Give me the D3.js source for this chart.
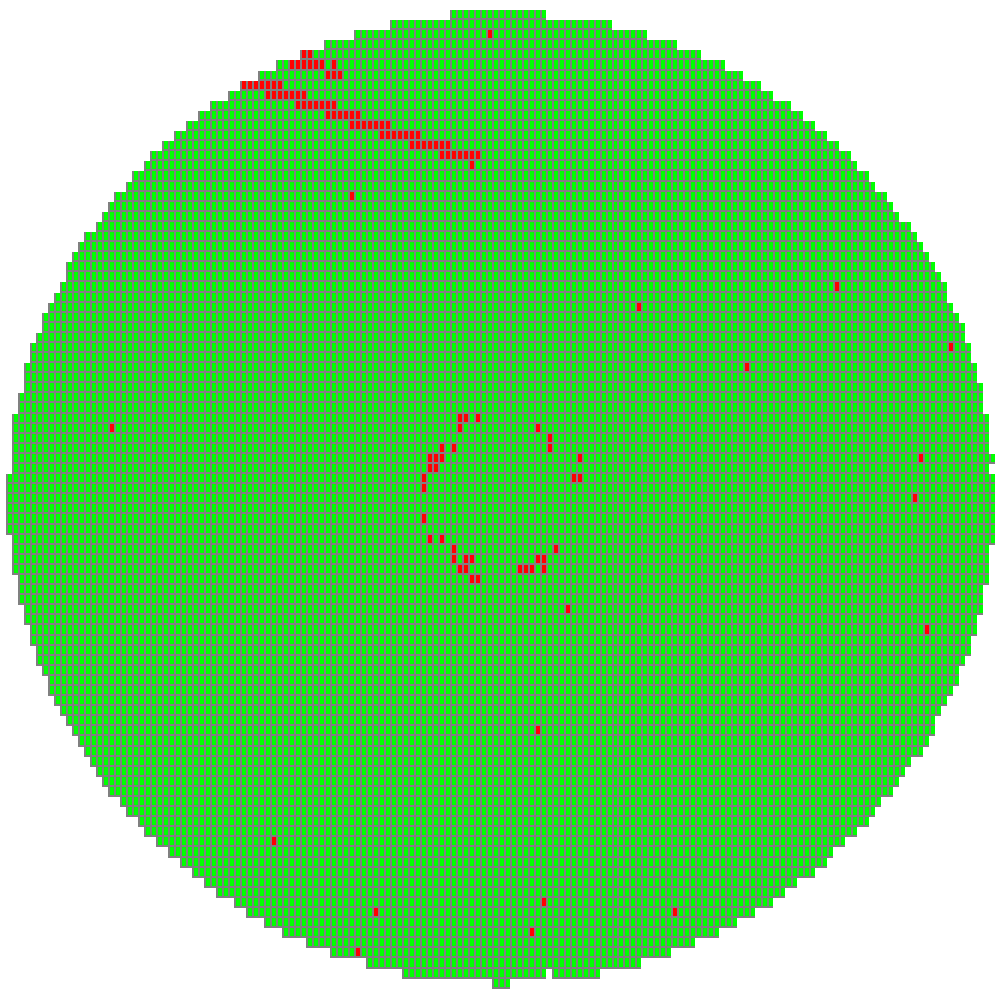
<!DOCTYPE html>
<html><head><meta charset="utf-8">
<script src="https://cdn.jsdelivr.net/npm/d3@7"></script>
<style>html,body{margin:0;padding:0;background:#fff;} svg{display:block;}</style>
</head><body>
<script>
// First and last die column of each wafer row (row 0 = top)
const rowStart = [
  74,64,58,53,49,45,42,39,37,34,
  32,30,28,26,24,23,21,20,18,17,
  16,15,13,12,11,10,10,9,8,7,
  6,6,5,4,4,3,3,3,2,2,
  1,1,1,1,1,1,0,0,0,0,
  0,0,1,1,1,1,2,2,2,3,
  3,4,4,5,5,6,7,7,8,9,
  10,11,12,13,14,15,16,17,19,20,
  22,23,25,27,29,31,33,35,38,40,
  43,46,50,54,60,66,81
];
const rowEnd = [
  89,100,106,111,115,119,122,125,127,130,
  132,134,136,138,140,141,143,144,146,147,
  148,150,151,152,153,154,155,156,156,157,
  158,159,159,160,160,161,161,162,162,162,
  163,163,163,163,164,163,164,164,164,164,
  164,164,164,163,163,163,163,162,162,162,
  161,161,160,160,159,158,158,157,156,155,
  154,154,153,152,150,149,148,147,145,144,
  143,141,139,137,136,134,131,129,127,124,
  121,118,114,110,105,98,83
];
// dies not present inside the row span [row, col]
const missingDies = [[95,90]];
// failing dies [row, col]
const failDies = [
  [2,80],
  [4,49],[4,50],
  [5,47],[5,48],[5,49],[5,50],[5,51],[5,52],[5,54],
  [6,53],[6,54],[6,55],
  [7,39],[7,40],[7,41],[7,42],[7,43],[7,44],[7,45],
  [8,43],[8,44],[8,45],[8,46],[8,47],[8,48],[8,49],
  [9,48],[9,49],[9,50],[9,51],[9,52],[9,53],[9,54],
  [10,53],[10,54],[10,55],[10,56],[10,57],[10,58],
  [11,57],[11,58],[11,59],[11,60],[11,61],[11,62],[11,63],
  [12,62],[12,63],[12,64],[12,65],[12,66],[12,67],[12,68],
  [13,67],[13,68],[13,69],[13,70],[13,71],[13,72],[13,73],
  [14,72],[14,73],[14,74],[14,75],[14,76],[14,77],[14,78],
  [15,77],
  [18,57],
  [27,138],
  [29,105],
  [33,157],
  [35,123],
  [40,75],[40,76],[40,78],
  [41,17],[41,75],[41,88],
  [42,90],
  [43,72],[43,74],[43,90],
  [44,70],[44,71],[44,72],[44,95],[44,152],
  [45,70],[45,71],
  [46,69],[46,94],[46,95],
  [47,69],
  [48,151],
  [50,69],
  [52,70],[52,72],
  [53,74],[53,91],
  [54,74],[54,76],[54,77],[54,88],[54,89],
  [55,75],[55,76],[55,85],[55,86],[55,87],[55,89],
  [56,77],[56,78],
  [59,93],
  [61,153],
  [71,88],
  [82,44],
  [88,89],
  [89,61],[89,111],
  [91,87],
  [93,58]
];

const nRows = rowStart.length;
const nCols = 165;
const W = 1000, H = 1000;

const x = d3.scaleLinear().domain([0, nCols]).range([6.3, 995]);
const y = d3.scaleLinear().domain([0, nRows]).range([10, 988.7]);

const failSet = new Set(failDies.map(d => d[0] + ":" + d[1]));
const missSet = new Set(missingDies.map(d => d[0] + ":" + d[1]));

const dies = [];
rowStart.forEach((s, r) => {
  for (let c = s; c <= rowEnd[r]; c++) {
    const k = r + ":" + c;
    if (missSet.has(k)) continue;
    dies.push({r, c, fail: failSet.has(k)});
  }
});

const svg = d3.select("body").append("svg")
  .attr("width", W).attr("height", H)
  .attr("shape-rendering", "crispEdges");

svg.append("rect").attr("width", W).attr("height", H).attr("fill", "#ffffff");

const g = svg.append("g");
const cells = g.selectAll("g.die").data(dies).join("g").attr("class", "die");

cells.append("rect")
  .attr("x", d => x(d.c))
  .attr("y", d => y(d.r))
  .attr("width", d => x(d.c + 1) - x(d.c))
  .attr("height", d => y(d.r + 1) - y(d.r))
  .attr("fill", "#808080");

cells.append("rect")
  .attr("x", d => x(d.c) + 2)
  .attr("y", d => y(d.r))
  .attr("width", d => x(d.c + 1) - x(d.c) - 2)
  .attr("height", d => y(d.r + 1) - y(d.r) - 2)
  .attr("fill", d => d.fail ? "#ff0000" : "#00ff00");
</script>
</body></html>
